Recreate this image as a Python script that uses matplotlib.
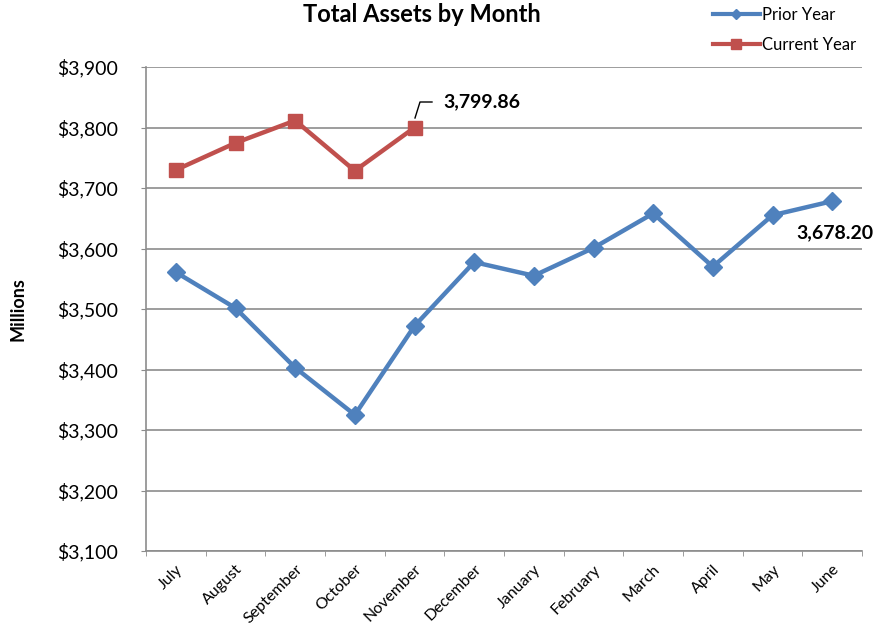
import matplotlib
matplotlib.use("Agg")
import matplotlib.pyplot as plt
from matplotlib.ticker import FuncFormatter
from matplotlib.lines import Line2D

plt.rcParams['font.family'] = ['Lato', 'DejaVu Sans']

months = ["July", "August", "September", "October", "November", "December",
          "January", "February", "March", "April", "May", "June"]
prior_year = [3560.8, 3501.5, 3403.0, 3325.0, 3472.0, 3577.5,
              3555.0, 3601.0, 3658.0, 3570.0, 3655.0, 3678.20]
current_year = [3729.8, 3774.5, 3811.5, 3728.5, 3799.86]

blue = "#4F81BD"
red = "#C0504D"
grid_c = "#8C8C8C"

W, H = 875, 639
fig = plt.figure(figsize=(W/100, H/100), dpi=100)
ax = fig.add_axes([146/W, 1-551/H, (862-146)/W, (551-67)/H])

x_prior = list(range(len(prior_year)))
x_cur = list(range(len(current_year)))
ax.plot(x_prior, prior_year, color=blue, lw=3.2, marker='D', ms=9,
        mfc=blue, mec=blue, zorder=3)
ax.plot(x_cur, current_year, color=red, lw=3.2, marker='s', ms=10.5,
        mfc=red, mec=red, zorder=3)

ax.set_xlim(-0.5, len(months) - 0.5)
ax.set_ylim(3100, 3900)
ax.set_yticks(range(3100, 3901, 100))
ax.yaxis.set_major_formatter(FuncFormatter(lambda v, p: f"${v:,.0f}"))
ax.set_xticks(range(len(months)))
ax.set_xticklabels(months, rotation=45, ha='right', rotation_mode='anchor', fontsize=11.5)
ax.set_xticks([i - 0.5 for i in range(len(months) + 1)], minor=True)
ax.tick_params(axis='x', which='major', length=0, pad=8)
ax.tick_params(axis='x', which='minor', length=3.6, color=grid_c, direction='out')
ax.tick_params(axis='y', length=3.6, color=grid_c, labelsize=14, pad=16.4)

ax.yaxis.grid(True, color=grid_c, lw=1.2)
ax.set_axisbelow(True)
for s in ['top', 'right']:
    ax.spines[s].set_visible(False)
for s in ['left', 'bottom']:
    ax.spines[s].set_color(grid_c)
    ax.spines[s].set_linewidth(1.2)

ax.set_ylabel("Millions", fontsize=13, fontweight='bold')
ax.yaxis.set_label_coords((26-146)/716, 0.5)

fig.text(422/W, 1-15/H, "Total Assets by Month", ha='center', va='center',
         fontsize=17, fontweight='bold')

# annotation for current year last point with leader line
ax.annotate(f"{current_year[-1]:,.2f}", xy=(x_cur[-1], current_year[-1]),
            xytext=(443, H-102), textcoords='figure pixels', fontsize=14, fontweight='bold',
            va='center', ha='left')
fig.add_artist(Line2D([415/W, 420/W, 432/W], [1-118/H, 1-102/H, 1-102/H],
                      color='black', lw=1.0))
ax.annotate(f"{prior_year[-1]:,.2f}", xy=(x_prior[-1], prior_year[-1]),
            xytext=(796, H-233), textcoords='figure pixels', fontsize=14, fontweight='bold',
            va='center', ha='left')

handles = [Line2D([], [], color=blue, lw=3, marker='D', ms=5, mfc=blue, mec=blue),
           Line2D([], [], color=red, lw=3, marker='s', ms=7, mfc=red, mec=red)]
fig.legend(handles, ["Prior Year", "Current Year"], loc='upper left',
           bbox_to_anchor=(713/W, 1-7/H), frameon=False, borderpad=0, borderaxespad=0,
           fontsize=12, handlelength=2.8, handletextpad=0.12, labelspacing=0.85)

fig.savefig("out.png", dpi=100)
